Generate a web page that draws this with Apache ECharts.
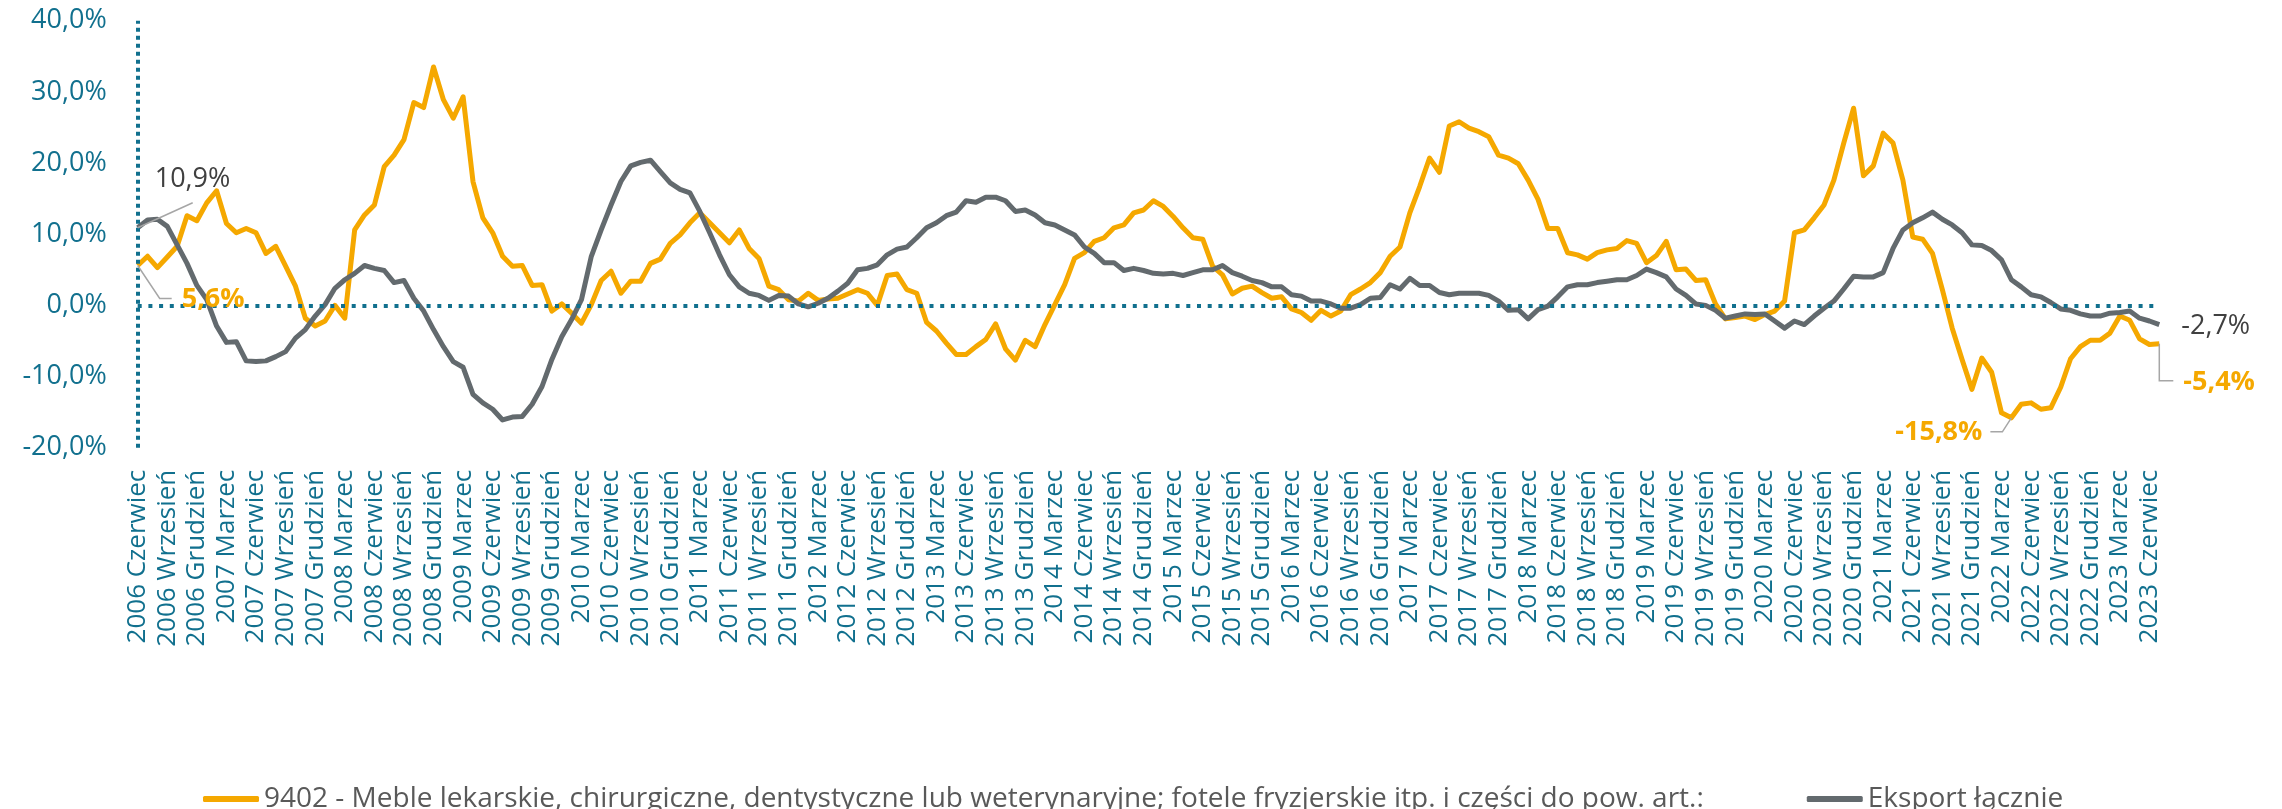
<!DOCTYPE html>
<html><head><meta charset="utf-8">
<script src="https://cdn.jsdelivr.net/npm/echarts@6/dist/echarts.min.js"></script>
<style>html,body{margin:0;padding:0;background:#fff}#c{width:2282px;height:809px}</style>
</head><body><div id="c"></div>
<script>
const startYear = 2006;
const startMonth = 5; // index in monthNames: Czerwiec
const monthNames = ['Styczeń','Luty','Marzec','Kwiecień','Maj','Czerwiec','Lipiec','Sierpień','Wrzesień','Październik','Listopad','Grudzień'];
const seriesNames = ['9402 - Meble lekarskie, chirurgiczne, dentystyczne lub weterynaryjne; fotele fryzjerskie itp. i części do pow. art.:', 'Eksport łącznie'];

const furniture = [
5.6, 6.9, 5.3, 6.8, 8.3, 12.6, 11.9, 14.4, 16.1, 11.5,
10.2, 10.8, 10.2, 7.3, 8.3, 5.5, 2.7, -1.8, -2.9, -2.2,
0.0, -1.8, 10.6, 12.7, 14.1, 19.5, 21.1, 23.3, 28.5, 27.8,
33.5, 28.9, 26.3, 29.3, 17.4, 12.3, 10.2, 6.9, 5.5, 5.6,
2.8, 2.9, -0.8, 0.2, -1.1, -2.5, 0.1, 3.5, 4.8, 1.7,
3.4, 3.4, 5.9, 6.5, 8.7, 9.9, 11.6, 13.0, 11.6, 10.2,
8.8, 10.6, 8.0, 6.6, 2.7, 2.2, 0.8, 0.6, 1.7, 0.7,
0.9, 1.0, 1.6, 2.2, 1.7, 0.0, 4.2, 4.4, 2.2, 1.7,
-2.4, -3.6, -5.3, -6.9, -6.9, -5.8, -4.8, -2.6, -6.1, -7.7,
-4.9, -5.8, -2.7, 0.1, 2.9, 6.6, 7.4, 9.0, 9.5, 10.9,
11.3, 13.0, 13.4, 14.7, 13.9, 12.5, 10.9, 9.5, 9.3, 5.5,
4.3, 1.6, 2.4, 2.7, 1.8, 1.0, 1.2, -0.5, -1.0, -2.1,
-0.7, -1.5, -0.8, 1.5, 2.3, 3.2, 4.6, 6.9, 8.2, 13.0,
16.7, 20.7, 18.7, 25.2, 25.8, 24.9, 24.4, 23.7, 21.1, 20.7,
19.9, 17.6, 14.9, 10.8, 10.8, 7.4, 7.1, 6.5, 7.4, 7.8,
8.0, 9.1, 8.7, 6.0, 7.0, 9.0, 5.0, 5.1, 3.5, 3.6,
0.2, -1.9, -1.7, -1.5, -2.0, -1.3, -0.8, 0.6, 10.2, 10.6,
12.3, 14.1, 17.6, 22.8, 27.7, 18.2, 19.6, 24.2, 22.8, 17.6,
9.6, 9.3, 7.3, 2.2, -3.2, -7.6, -11.8, -7.4, -9.4, -15.1,
-15.8, -13.9, -13.7, -14.6, -14.4, -11.5, -7.5, -5.8, -4.9, -4.9,
-3.9, -1.5, -2.1, -4.7, -5.5, -5.4
];

const exportTotal = [
10.9, 12.0, 12.1, 11.1, 8.5, 5.9, 2.8, 0.8, -2.9, -5.2,
-5.1, -7.8, -7.9, -7.8, -7.2, -6.5, -4.6, -3.4, -1.5, 0.1,
2.4, 3.6, 4.5, 5.6, 5.2, 4.9, 3.2, 3.5, 1.0, -0.8,
-3.4, -5.8, -7.9, -8.7, -12.5, -13.7, -14.6, -16.1, -15.7, -15.6,
-13.9, -11.4, -7.6, -4.4, -2.0, 0.8, 6.9, 10.6, 14.1, 17.4,
19.6, 20.1, 20.4, 18.8, 17.2, 16.3, 15.8, 13.2, 10.2, 7.1,
4.3, 2.6, 1.7, 1.4, 0.7, 1.4, 1.3, 0.2, -0.2, 0.3,
1.0, 2.0, 3.1, 5.0, 5.2, 5.7, 7.1, 7.9, 8.2, 9.5,
10.9, 11.6, 12.6, 13.1, 14.7, 14.5, 15.2, 15.2, 14.7, 13.2,
13.4, 12.7, 11.6, 11.3, 10.6, 9.9, 8.2, 7.3, 6.0, 6.0,
4.9, 5.2, 4.9, 4.5, 4.4, 4.5, 4.2, 4.6, 5.0, 5.0,
5.6, 4.6, 4.1, 3.5, 3.2, 2.6, 2.6, 1.5, 1.3, 0.6,
0.6, 0.2, -0.4, -0.4, 0.1, 1.0, 1.1, 2.9, 2.3, 3.8,
2.8, 2.8, 1.8, 1.5, 1.7, 1.7, 1.7, 1.4, 0.6, -0.7,
-0.6, -1.9, -0.6, -0.1, 1.2, 2.6, 2.9, 2.9, 3.2, 3.4,
3.6, 3.6, 4.2, 5.1, 4.6, 4.0, 2.3, 1.4, 0.2, 0.0,
-0.7, -1.8, -1.5, -1.2, -1.3, -1.2, -2.2, -3.2, -2.2, -2.7,
-1.5, -0.4, 0.6, 2.3, 4.1, 4.0, 4.0, 4.6, 8.0, 10.6,
11.6, 12.3, 13.1, 12.1, 11.3, 10.2, 8.5, 8.4, 7.7, 6.4,
3.6, 2.6, 1.5, 1.2, 0.4, -0.5, -0.7, -1.2, -1.5, -1.5,
-1.1, -1.0, -0.8, -1.8, -2.2, -2.7
];

const yMin = -20, yMax = 40, yStep = 10;

// annotated points: [seriesIndex, dataIndex]
const annotatedPoints = [[1, 0], [0, 0], [0, 190], [1, 205], [0, 205]];

const categories = [];
for (let k = 0; k < furniture.length; k++) {
  const m = startMonth + k;
  categories.push((startYear + Math.floor(m / 12)) + ' ' + monthNames[m % 12]);
}

const TEAL = '#11708e', ORANGE = '#f5a800', GRAY = '#636a6e';
const FONT = '"Open Sans"';
const fmt = v => v.toFixed(1).replace('.', ',') + '%';

const chart = echarts.init(document.getElementById('c'), null, {renderer: 'canvas'});
chart.setOption({
  animation: false,
  backgroundColor: '#ffffff',
  grid: {left: 137.7, right: 122.7, top: 20.7, bottom: 361.3, containLabel: false},
  xAxis: {
    type: 'category', data: categories, boundaryGap: false,
    axisLine: {show: false}, axisTick: {show: false}, splitLine: {show: false},
    axisLabel: {interval: 2, rotate: 90, margin: 22, color: TEAL, fontFamily: FONT, fontSize: 26}
  },
  yAxis: {
    type: 'value', min: yMin, max: yMax, interval: yStep,
    axisLine: {show: false},
    axisTick: {show: false}, splitLine: {show: false},
    axisLabel: {margin: 31, color: TEAL, fontFamily: FONT, fontSize: 27, formatter: v => fmt(v)}
  },
  legend: {
    left: 198, top: 778, itemWidth: 56, itemHeight: 6, itemGap: 103, icon: 'roundRect',
    textStyle: {color: '#595959', fontFamily: FONT, fontSize: 28, lineHeight: 32},
    data: seriesNames
  },
  series: [
    {name: seriesNames[0], type: 'line', data: furniture, symbol: 'none', z: 3,
     lineStyle: {color: ORANGE, width: 5, join: 'round'}, itemStyle: {color: ORANGE}},
    {name: seriesNames[1], type: 'line', data: exportTotal, symbol: 'none', z: 4,
     lineStyle: {color: GRAY, width: 5, join: 'round'}, itemStyle: {color: GRAY}},
    {name: 'axes', type: 'line', data: [], z: 1, silent: true,
     markLine: {silent: true, symbol: 'none', label: {show: false},
       lineStyle: {color: TEAL, width: 4, type: [4, 6.7]},
       data: [{yAxis: 0}, {xAxis: 0, lineStyle: {color: TEAL, width: 4, type: [4, 4]}}]}}
  ]
});

// annotations positioned through the chart's own scales
const styles = [
  {color: '#404040', weight: 'normal', dx: 17, dy: -48, align: 'left', leader: [[0,0],[55,-25]]},
  {color: ORANGE, weight: 'bold', dx: 44, dy: 34, align: 'left', leader: [[0,0],[22,33],[34,33]]},
  {color: ORANGE, weight: 'bold', dx: -29, dy: 15, align: 'right', leader: [[0,0],[-9,14],[-21,14]]},
  {color: '#404040', weight: 'normal', dx: 22, dy: 2, align: 'left', leader: null},
  {color: ORANGE, weight: 'bold', dx: 24, dy: 39, align: 'left', leader: [[0,0],[0,37],[14,37]]}
];
const data = [furniture, exportTotal];
const graphics = [];
annotatedPoints.forEach((ap, k) => {
  const v = data[ap[0]][ap[1]];
  const p = chart.convertToPixel({xAxisIndex: 0, yAxisIndex: 0}, [ap[1], v]);
  const s = styles[k];
  if (s.leader) {
    graphics.push({type: 'polyline', z: 10, shape: {points: s.leader.map(q => [p[0] + q[0], p[1] + q[1]])},
      style: {stroke: '#a6a6a6', lineWidth: 1.5, fill: null}});
  }
  graphics.push({type: 'text', z: 11, x: p[0] + s.dx, y: p[1] + s.dy,
    style: {text: fmt(v), fill: s.color, font: s.weight + ' 27px ' + FONT, textAlign: s.align, textVerticalAlign: 'middle'}});
});
chart.setOption({graphic: graphics});
</script></body></html>
